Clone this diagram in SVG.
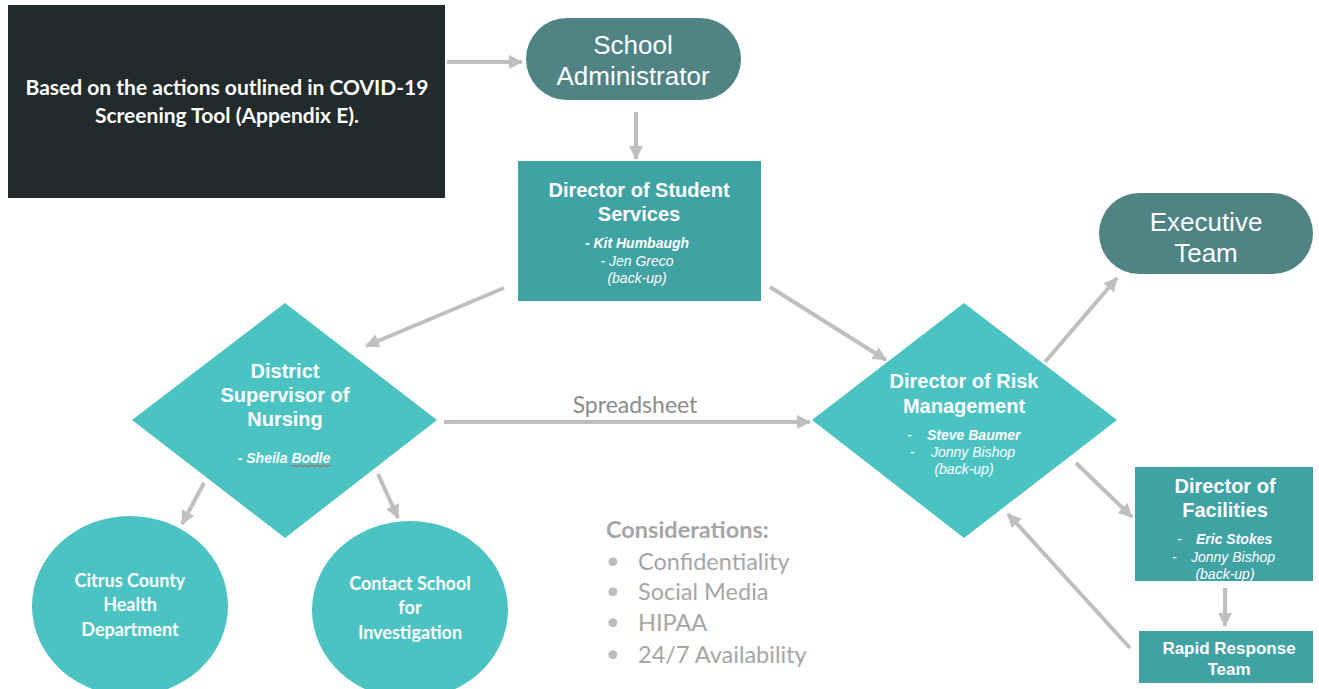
<svg xmlns="http://www.w3.org/2000/svg" width="1319" height="689" viewBox="0 0 1319 689">
<defs>
<marker id="ah" markerUnits="userSpaceOnUse" markerWidth="16" markerHeight="16" refX="13" refY="7" orient="auto">
<path d="M0,0 L14,7 L0,14 Z" fill="#bfbfbf"/>
</marker>
<style>
.conn{stroke:#bfbfbf;stroke-width:4;fill:none;marker-end:url(#ah)}
.pill{fill:#4f8384}
.rect{fill:#3fa2a3}
.dia{fill:#4cc3c3}
.pt{font-family:"Liberation Sans",Arial,sans-serif;font-size:26px;fill:#fff;text-anchor:middle}
.hd{font-family:"Liberation Sans",Arial,sans-serif;font-size:20px;font-weight:bold;fill:#fff;text-anchor:middle}
.nm{font-family:"Liberation Sans",Arial,sans-serif;font-size:14px;font-style:italic;fill:#fff;text-anchor:middle}
.st{text-anchor:start}
.nb{font-weight:bold}
.cl{font-family:Lato,"Open Sans",sans-serif;font-size:18px;font-weight:bold;fill:#fff;text-anchor:middle}
.gr{font-family:Lato,"Open Sans",sans-serif;font-size:23.5px;fill:#a6a6a6}
.bl{fill:#bdbdbd}
</style>
</defs>
<rect width="1319" height="689" fill="#fff"/>
<g id="intro">
<rect x="8" y="5" width="437" height="193" fill="#232a2c"/>
<text class="cl" x="227" y="95" style="font-size:21px">Based on the actions outlined in COVID-19</text>
<text class="cl" x="227" y="123" style="font-size:21px">Screening Tool (Appendix E).</text>
</g>
<g id="school-admin">
<rect class="pill" x="526" y="18" width="215" height="82" rx="41"/>
<text class="pt" x="633" y="54">School</text>
<text class="pt" x="633" y="85">Administrator</text>
</g>
<g id="student-services">
<rect class="rect" x="518" y="161" width="243" height="140"/>
<text class="hd" x="639" y="197">Director of Student</text>
<text class="hd" x="639" y="221">Services</text>
<text class="nm nb" x="637" y="248">- Kit Humbaugh</text>
<text class="nm" x="637" y="266">- Jen Greco</text>
<text class="nm" x="637" y="283">(back-up)</text>
</g>
<g id="nursing">
<polygon class="dia" points="285,303 437,420 285,538 132,420"/>
<text class="hd" x="285" y="378">District</text>
<text class="hd" x="285" y="402">Supervisor of</text>
<text class="hd" x="285" y="426">Nursing</text>
<text class="nm nb" x="284" y="463">- Sheila Bodle</text>
<path d="M292,466 q1.5,-1.5 3,0 t3,0 t3,0 t3,0 t3,0 t3,0 t3,0 t3,0 t3,0 t3,0 t3,0 t3,0 t3,0" stroke="#e0302f" stroke-width="0.8" fill="none"/>
</g>
<g id="risk">
<polygon class="dia" points="964,303 1117,420 964,538 812,420"/>
<text class="hd" x="964" y="388">Director of Risk</text>
<text class="hd" x="964" y="413">Management</text>
<text class="nm st" x="907" y="440">-</text>
<text class="nm nb st" x="927" y="440">Steve Baumer</text>
<text class="nm st" x="910" y="457">-</text>
<text class="nm st" x="931" y="457">Jonny Bishop</text>
<text class="nm" x="964" y="474">(back-up)</text>
</g>
<g id="executive">
<rect class="pill" x="1099" y="193" width="214" height="81" rx="40.5"/>
<text class="pt" x="1206" y="231">Executive</text>
<text class="pt" x="1206" y="262">Team</text>
</g>
<g id="facilities">
<rect class="rect" x="1135" y="467" width="178" height="114"/>
<text class="hd" x="1225" y="493">Director of</text>
<text class="hd" x="1225" y="517">Facilities</text>
<text class="nm st" x="1177" y="544">-</text>
<text class="nm nb st" x="1196" y="544">Eric Stokes</text>
<text class="nm st" x="1172" y="562">-</text>
<text class="nm st" x="1191" y="562">Jonny Bishop</text>
<text class="nm" x="1225" y="579">(back-up)</text>
</g>
<g id="rapid">
<rect class="rect" x="1139" y="631" width="174" height="52"/>
<text class="hd" x="1229" y="654" style="font-size:17px">Rapid Response</text>
<text class="hd" x="1229" y="675" style="font-size:17px">Team</text>
</g>
<g id="citrus">
<ellipse class="dia" cx="130" cy="606" rx="98" ry="90"/>
<text class="cl" x="130" y="587">Citrus County</text>
<text class="cl" x="130" y="611">Health</text>
<text class="cl" x="130" y="636">Department</text>
</g>
<g id="contact">
<ellipse class="dia" cx="410" cy="610" rx="98" ry="89"/>
<text class="cl" x="410" y="590">Contact School</text>
<text class="cl" x="410" y="614">for</text>
<text class="cl" x="410" y="639">Investigation</text>
</g>
<g id="considerations">
<text class="gr" x="606" y="538" font-weight="bold">Considerations:</text>
<text class="gr bl" x="606" y="569">•</text><text class="gr" x="638" y="570">Confidentiality</text>
<text class="gr bl" x="606" y="599">•</text><text class="gr" x="638" y="600">Social Media</text>
<text class="gr bl" x="606" y="630">•</text><text class="gr" x="638" y="631">HIPAA</text>
<text class="gr bl" x="606" y="662">•</text><text class="gr" x="638" y="663">24/7 Availability</text>
</g>
<g id="connectors">
<line class="conn" x1="447" y1="62" x2="522" y2="62"/>
<line class="conn" x1="636" y1="112" x2="636" y2="159"/>
<line class="conn" x1="504" y1="288" x2="366" y2="346"/>
<line class="conn" x1="770" y1="287" x2="886" y2="360"/>
<line class="conn" x1="444" y1="422" x2="810" y2="422"/>
<text x="635" y="413" font-family="Lato,'Open Sans',sans-serif" font-size="23" fill="#8c8c8c" text-anchor="middle">Spreadsheet</text>
<line class="conn" x1="204" y1="483" x2="182" y2="524"/>
<line class="conn" x1="378" y1="474" x2="398" y2="518"/>
<line class="conn" x1="1045" y1="362" x2="1117" y2="278"/>
<line class="conn" x1="1076" y1="463" x2="1132" y2="517"/>
<line class="conn" x1="1225" y1="588" x2="1225" y2="626"/>
<line class="conn" x1="1130" y1="648" x2="1008" y2="514"/>
</g>
</svg>
